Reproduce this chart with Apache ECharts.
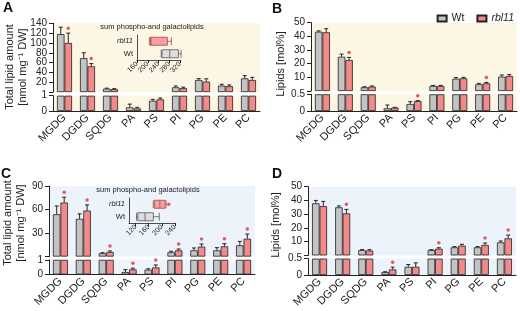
<!DOCTYPE html>
<html>
<head>
<meta charset="utf-8">
<script src="https://cdn.jsdelivr.net/npm/echarts@6/dist/echarts.min.js"></script>
<style>
  html, body { margin: 0; padding: 0; background: #fff; }
  #chart { width: 520px; height: 311px; }
</style>
</head>
<body>
<div id="chart"></div>
<script>
const lipids = ['MGDG', 'DGDG', 'SQDG', 'PA', 'PS', 'PI', 'PG', 'PE', 'PC'];

// A: total lipid amount, nmol mg-1 DW
const aWt = [118, 69, 7, 0.24, 0.67, 9.8, 24.7, 13.2, 28];
const aWtErr = [132, 80, 8, 0.45, 0.76, 12.5, 27.5, 16, 33.5];
const aRbl = [100, 52.5, 6, 0.17, 0.76, 8, 21.4, 12, 24.7];
const aRblErr = [120, 58, 7, 0.24, 0.85, 10, 27, 14.6, 30];
const aStar = [1, 1, 0, 0, 0, 0, 0, 0, 0];

// B: mol%
const bWt = [43.4, 25.1, 2.7, 0.08, 0.21, 3.7, 9.0, 4.9, 10.5];
const bWtErr = [44, 27, 3.1, 0.18, 0.28, 4.1, 9.8, 5.6, 11.7];
const bRbl = [43, 22.7, 3.2, 0.1, 0.3, 3.7, 9.3, 5.6, 11];
const bRblErr = [45.6, 24.6, 3.7, 0.11, 0.31, 4.1, 10, 6.3, 12];
const bStar = [0, 1, 0, 0, 1, 0, 0, 1, 0];

// C: total lipid amount
const cWt = [54, 48.2, 4.2, 0.17, 0.33, 5.5, 8, 8, 14.4];
const cWtErr = [64.6, 54.5, 5, 0.33, 0.39, 6.8, 11, 11.4, 19.4];
const cRbl = [68.9, 58.7, 5.9, 0.35, 0.48, 8, 12.7, 13.1, 22.8];
const cRblErr = [75.6, 65.9, 7.2, 0.43, 0.65, 9.7, 16, 16.5, 28.7];
const cStar = [1, 1, 1, 1, 1, 1, 1, 1, 1];

// D: mol%
const dWt = [37.9, 35, 3.9, 0.09, 0.25, 3.9, 5.9, 5.9, 9.5];
const dWtErr = [40, 36, 4.2, 0.1, 0.32, 4.2, 6.4, 6.4, 10.5];
const dRbl = [35.9, 30.6, 3.5, 0.17, 0.25, 4.9, 7.1, 7.6, 12.4];
const dRblErr = [39.3, 33.5, 4.2, 0.24, 0.37, 5.6, 8.1, 9, 14.8];
const dStar = [0, 1, 0, 1, 0, 1, 0, 1, 1];

// upper-segment tick steps
const aStep = 20, bStep = 10, cStep = 30, dStep = 10;

// insets: sum phospho- and galactolipids [min, Q1, median, Q3, max]
const boxGroups = ['Wt', 'rbl11'];
const insetAWt = [250, 253, 282, 314, 324];
const insetARbl = [206, 209, 212, 273, 288];
const insetATicks = [160, 200, 240, 280, 320];
const insetCWt = [123, 127, 149, 174, 192];
const insetCRbl = [174, 177, 194, 210, 213];
const insetCStar = 221;
const insetCTicks = [120, 160, 200, 240];

const ink = '#222';
const font = 'Liberation Sans, Arial, sans-serif';
const greyFill = '#c3c3c3';
const redFill = '#f28a8a';
const starRed = '#e3313c';
const BW = 7.5;

const chart = echarts.init(document.getElementById('chart'));
const grid = [], xAxis = [], yAxis = [], series = [];

function errItem(params, api) {
  const side = api.value(3) ? 1 : -1;
  const base = api.coord([api.value(0), api.value(1)]);
  const tip = api.coord([api.value(0), api.value(2)]);
  const x = base[0] + side * BW / 2;
  return {
    type: 'group',
    children: [
      { type: 'line', shape: { x1: x, y1: base[1], x2: x, y2: tip[1] }, style: { stroke: ink, lineWidth: 1 } },
      { type: 'line', shape: { x1: x - 2, y1: tip[1], x2: x + 2, y2: tip[1] }, style: { stroke: ink, lineWidth: 1 } }
    ]
  };
}

function addPanel(p) {
  const gi = grid.length;
  const lo = p.lowMax;
  grid.push({ left: p.left, top: p.top, width: p.width, height: p.splitY - p.top, show: true, backgroundColor: p.bg, borderWidth: 0 });
  grid.push({ left: p.left, top: p.lowTop, width: p.width, height: p.bottom - p.lowTop, show: true, backgroundColor: p.bg, borderWidth: 0 });

  xAxis.push({ gridIndex: gi, type: 'category', data: lipids, show: false });
  xAxis.push({
    gridIndex: gi + 1, type: 'category', data: lipids,
    axisLine: { lineStyle: { color: ink, width: 1 } },
    axisTick: { alignWithLabel: true, length: 4, lineStyle: { color: ink } },
    axisLabel: { rotate: 45, interval: 0, fontSize: 11, color: ink, fontFamily: font, margin: 5 }
  });
  // upper segment: axis runs from 0, the 0 label is blanked (break sits there)
  yAxis.push({
    gridIndex: gi, type: 'value', min: 0, max: p.topMax, interval: p.step,
    axisLine: { show: true, lineStyle: { color: ink, width: 1 } },
    axisTick: { show: true, length: 4, lineStyle: { color: ink } },
    axisLabel: { fontSize: 10, color: ink, fontFamily: font, margin: 6,
      formatter: v => v === 0 ? '' : String(v) },
    splitLine: { show: false }
  });
  yAxis.push({
    gridIndex: gi + 1, type: 'value', min: 0, max: lo, interval: lo,
    axisLine: { show: true, lineStyle: { color: ink, width: 1 } },
    axisTick: { show: true, length: 4, lineStyle: { color: ink } },
    axisLabel: { fontSize: 10, color: ink, fontFamily: font, margin: 6 },
    splitLine: { show: false }
  });

  const groups = [
    { name: 'Wt', vals: p.wt, errs: p.wtErr, fill: greyFill, side: 0 },
    { name: 'rbl11', vals: p.rbl, errs: p.rblErr, fill: redFill, side: 1 }
  ];
  [0, 1].forEach(k => {
    groups.forEach(g => {
      series.push({
        name: g.name, type: 'bar', xAxisIndex: gi + k, yAxisIndex: gi + k,
        barWidth: BW, barGap: '0%',
        itemStyle: { color: g.fill, borderColor: ink, borderWidth: 0.8 },
        data: g.vals.map(v => k === 0 ? (v > lo ? v : '-') : Math.min(v, lo))
      });
    });
    const errData = [];
    groups.forEach(g => g.vals.forEach((v, i) => {
      if ((v > lo) === (k === 0)) errData.push([i, v, g.errs[i], g.side]);
    }));
    series.push({
      type: 'custom', xAxisIndex: gi + k, yAxisIndex: gi + k, z: 4,
      renderItem: errItem, data: errData, silent: true
    });
    const starData = [];
    p.star.forEach((s, i) => {
      if (s && ((p.rblErr[i] > lo) === (k === 0))) starData.push([i, p.rblErr[i]]);
    });
    series.push({
      type: 'scatter', xAxisIndex: gi + k, yAxisIndex: gi + k, z: 5,
      symbol: 'circle', symbolSize: 3.5, symbolOffset: [BW / 2, -5],
      itemStyle: { color: starRed }, data: starData, silent: true
    });
  });
}

function addInset(p) {
  const gi = grid.length;
  grid.push({ left: p.left, top: p.top, width: p.width, height: p.height });
  xAxis.push({
    gridIndex: gi, type: 'value', min: p.min, max: p.max,
    axisLine: { show: true, lineStyle: { color: ink, width: 0.8 } },
    axisTick: { show: true, length: 3, customValues: p.ticks, lineStyle: { color: ink } },
    axisLabel: { customValues: p.ticks, rotate: 45, fontSize: 7, color: ink, fontFamily: font, margin: 3 },
    splitLine: { show: false }
  });
  yAxis.push({
    gridIndex: gi, type: 'category', data: boxGroups,
    axisLine: { lineStyle: { color: ink, width: 0.8 } },
    axisTick: { alignWithLabel: true, length: 3, lineStyle: { color: ink } },
    axisLabel: {
      fontSize: 7.5, color: ink, fontFamily: font, margin: 4,
      formatter: v => v === 'rbl11' ? '{i|rbl11}' : v,
      rich: { i: { fontStyle: 'italic', fontSize: 7.5, fontFamily: font, color: ink } }
    }
  });
  series.push({
    type: 'boxplot', xAxisIndex: gi, yAxisIndex: gi, boxWidth: [8, 8], silent: true,
    data: [
      { value: p.wt, itemStyle: { color: '#dedede', borderColor: '#555', borderWidth: 0.8 } },
      { value: p.rbl, itemStyle: { color: '#f5a0a0', borderColor: '#a84848', borderWidth: 0.8 } }
    ]
  });
  if (p.star) {
    series.push({
      type: 'scatter', xAxisIndex: gi, yAxisIndex: gi, symbolSize: 3.5,
      itemStyle: { color: starRed }, data: [[p.star, 1]], silent: true
    });
  }
}

const cream = '#fcf6e5';
const blue = '#edf3fb';

addPanel({ left: 53, width: 207, top: 23.3, splitY: 92.1, lowTop: 95.7, bottom: 111, bg: cream,
  lowMax: 1, topMax: 140, step: aStep, wt: aWt, wtErr: aWtErr, rbl: aRbl, rblErr: aRblErr, star: aStar });
addPanel({ left: 311, width: 206, top: 22.7, splitY: 91, lowTop: 94.3, bottom: 111, bg: cream,
  lowMax: 0.5, topMax: 50, step: bStep, wt: bWt, wtErr: bWtErr, rbl: bRbl, rblErr: bRblErr, star: bStar });
addPanel({ left: 49, width: 206, top: 186, splitY: 256.6, lowTop: 259.8, bottom: 274.5, bg: blue,
  lowMax: 1, topMax: 90, step: cStep, wt: cWt, wtErr: cWtErr, rbl: cRbl, rblErr: cRblErr, star: cStar });
addPanel({ left: 308, width: 208, top: 186.7, splitY: 255.4, lowTop: 258.6, bottom: 275, bg: blue,
  lowMax: 0.5, topMax: 50, step: dStep, wt: dWt, wtErr: dWtErr, rbl: dRbl, rblErr: dRblErr, star: dStar });

addInset({ left: 137, top: 35, width: 43, height: 25, min: 160, max: 320, ticks: insetATicks,
  wt: insetAWt, rbl: insetARbl });
addInset({ left: 129, top: 198, width: 46, height: 25, min: 100, max: 240, ticks: insetCTicks,
  wt: insetCWt, rbl: insetCRbl, star: insetCStar });

function letter(t, x, y) {
  return { type: 'text', x: x, y: y, style: { text: t, font: 'bold 14px ' + font, fill: '#111' } };
}
function vText(t, x, y, size) {
  return {
    type: 'text', x: x, y: y, rotation: Math.PI / 2,
    style: { text: t, font: size + 'px ' + font, fill: ink, align: 'center', verticalAlign: 'middle' }
  };
}
function insetTitle(x, y) {
  return {
    type: 'text', x: x, y: y,
    style: { text: 'sum phospho-and galactolipids', font: '7.5px ' + font, fill: ink, align: 'center', verticalAlign: 'middle' }
  };
}

chart.setOption({
  animation: false,
  textStyle: { fontFamily: font },
  legend: {
    data: ['Wt', 'rbl11'], right: 6, top: 13, orient: 'horizontal', icon: 'rect',
    itemWidth: 9, itemHeight: 6, itemGap: 12, padding: 0,
    textStyle: { fontSize: 10.5, color: ink, fontFamily: font,
      rich: { i: { fontStyle: 'italic', fontSize: 10.5, fontFamily: font, color: ink } } },
    formatter: n => n === 'rbl11' ? '{i|rbl11}' : n
  },
  grid: grid,
  xAxis: xAxis,
  yAxis: yAxis,
  series: series,
  graphic: [
    letter('A', 3, 1), letter('B', 272, 2), letter('C', 1, 167), letter('D', 272, 167),
    vText('Total lipid amount', 10, 67, 11),
    vText('[nmol mg\u207B\u00B9 DW]', 23, 67, 11),
    vText('Total lipid amount', 8, 223, 11),
    vText('[nmol mg\u207B\u00B9 DW]', 21, 223, 11),
    vText('Lipids [mol%]', 281, 64, 11),
    vText('Lipids [mol%]', 276, 225, 11),
    insetTitle(152, 27), insetTitle(148, 190)
  ]
});
</script>
</body>
</html>
